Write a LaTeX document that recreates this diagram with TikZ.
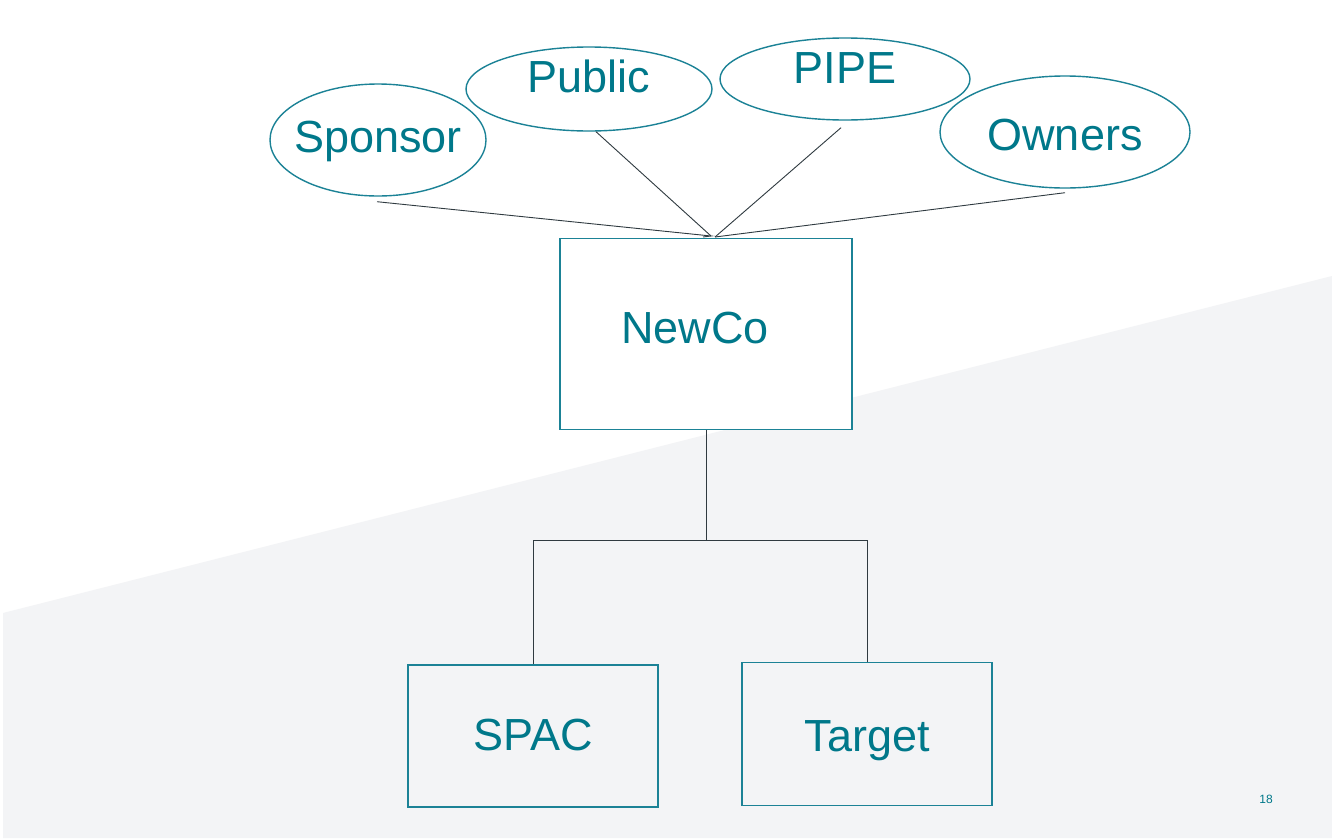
\documentclass[tikz,border=0pt]{standalone}
\usepackage{fontspec}
\setmainfont{Liberation Sans}
\usetikzlibrary{shapes.geometric,calc}
\definecolor{teal1}{HTML}{00788A}
\definecolor{tealline}{HTML}{1B8296}
\definecolor{bggray}{HTML}{F3F4F6}
\definecolor{conn}{HTML}{2F3A40}
\tikzset{
  oval/.style={ellipse, draw=tealline, line width=1.4pt, fill=white, inner sep=0pt},
  boxnode/.style={rectangle, draw=tealline, line width=1.8pt, inner sep=0pt},
  txt/.style={text=teal1, font=\fontsize{45}{48}\selectfont, inner sep=0pt},
  link/.style={draw=conn, line width=0.9pt},
}
\begin{document}
\begin{tikzpicture}[x=1pt,y=-1pt]
\useasboundingbox (0,0) rectangle (1332,838);
\fill[white] (0,0) rectangle (1332,838);
\fill[bggray] (3,613) -- (1332,276) -- (1332,838) -- (3,838) -- cycle;

% ellipses
\node[oval, minimum width=216, minimum height=112, label={[txt, yshift=-1pt]center:Sponsor}] (sponsor) at (378,140) {};
\node[oval, minimum width=246, minimum height=84, label={[txt, yshift=13pt]center:Public}] (public) at (589,89) {};
\node[oval, minimum width=250, minimum height=82, label={[txt, yshift=10.5pt]center:PIPE}] (pipe) at (845,79) {};
\node[oval, minimum width=250, minimum height=112, label={[txt, yshift=-3pt]center:Owners}] (owners) at (1065,132) {};

% boxes
\node[boxnode, fill=white, minimum width=292, minimum height=191] (newco) at (706,334) {};
\node[txt] (newcotxt) at (695,328) {NewCo};
\node[boxnode, minimum width=250, minimum height=142, label={[txt, yshift=1.5pt]center:SPAC}] (spac) at (533,736) {};
\node[boxnode, minimum width=250, minimum height=143, label={[txt, yshift=-6.5pt]center:Target}] (target) at (867,734) {};

% convergence points
\coordinate (apexL) at (711,236);
\coordinate (apexR) at (715,237);

\draw[link] ($(sponsor.south)+(-1,5)$) -- (apexL) -- ++(-8,1);
\draw[link] ($(public.south)+(7,0)$) -- (apexL);
\draw[link] ($(pipe.south)+(-4,7)$) -- (apexR);
\draw[link] ($(owners.south)+(0,4)$) -- (apexR);

% tree
\coordinate (bus) at (706,540);
\draw[link] (newco.south) -- (bus);
\draw[link] (spac.north) -- (spac.north |- bus) -- (target.north |- bus) -- (target.north);

\node[text=teal1, font=\fontsize{12}{14}\selectfont] (pg) at (1266,799) {18};
\end{tikzpicture}
\end{document}
